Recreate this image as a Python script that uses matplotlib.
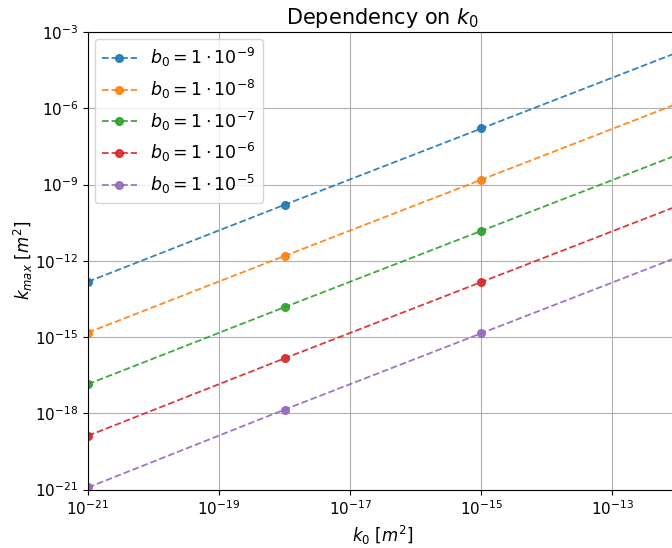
import matplotlib
matplotlib.use("Agg")
import matplotlib.pyplot as plt
from matplotlib.ticker import NullLocator

# Initial permeability values (m^2)
k0 = [1e-21, 1e-18, 1e-15, 1e-12]

# Maximum permeability for each initial aperture b0
b0_labels = [r"$b_0 = 1\cdot10^{-9}$", r"$b_0 = 1\cdot10^{-8}$",
             r"$b_0 = 1\cdot10^{-7}$", r"$b_0 = 1\cdot10^{-6}$",
             r"$b_0 = 1\cdot10^{-5}$"]
kmax_b9 = [1.5e-13, 1.6e-10, 1.6e-07, 1.6e-04]
kmax_b8 = [1.5e-15, 1.55e-12, 1.55e-09, 1.55e-06]
kmax_b7 = [1.4e-17, 1.5e-14, 1.5e-11, 1.5e-08]
kmax_b6 = [1.3e-19, 1.45e-16, 1.45e-13, 1.45e-10]
kmax_b5 = [1.2e-21, 1.4e-18, 1.4e-15, 1.4e-12]
series = [kmax_b9, kmax_b8, kmax_b7, kmax_b6, kmax_b5]

fig = plt.figure(figsize=(6.72, 5.48), dpi=100)
W, H = 672, 548
ax = fig.add_axes([88 / W, (H - 489.5) / H, 590 / W, (489.5 - 32) / H])

for vals, lab in zip(series, b0_labels):
    ax.plot(k0, vals, "--o", markersize=5.5, linewidth=1.3, alpha=0.9, label=lab)

ax.set_xscale("log")
ax.set_yscale("log")
ax.set_xlim(1e-21, 1e-12)
ax.set_ylim(1e-21, 1e-3)
ax.set_xticks([1e-21, 1e-19, 1e-17, 1e-15, 1e-13])
ax.set_yticks([1e-21, 1e-18, 1e-15, 1e-12, 1e-9, 1e-6, 1e-3])
ax.xaxis.set_minor_locator(NullLocator())
ax.yaxis.set_minor_locator(NullLocator())
ax.tick_params(labelsize=11)
ax.grid(True, color="#b0b0b0", linewidth=0.8)

ax.set_title(r"Dependency on $k_0$", fontsize=15)
ax.set_xlabel(r"$k_0$ [$m^2$]", fontsize=12)
ax.set_ylabel(r"$k_{max}$ [$m^2$]", fontsize=12, labelpad=0)
ax.legend(loc="upper left", fontsize=12.5, borderaxespad=0.4)

fig.savefig("out.png", dpi=100)
